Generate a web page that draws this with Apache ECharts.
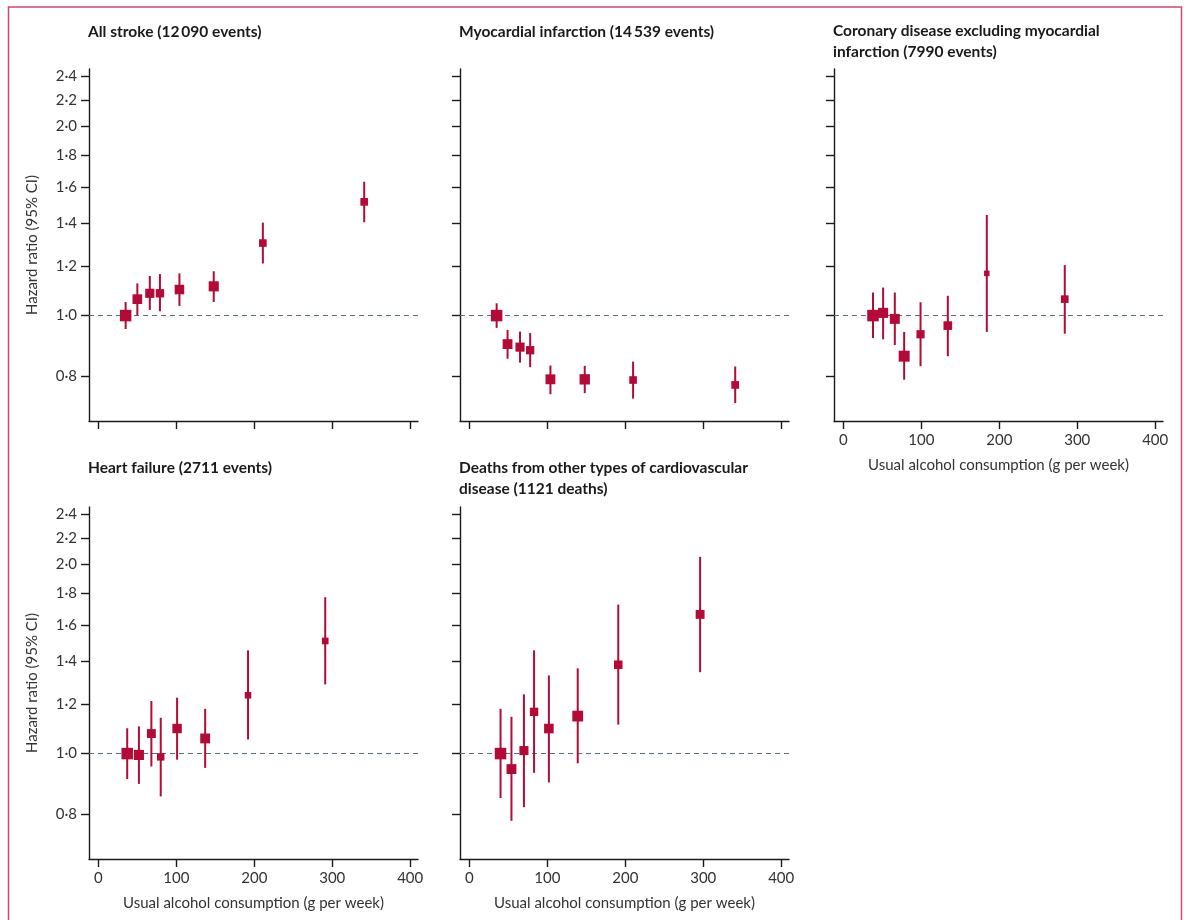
<!DOCTYPE html>
<html><head><meta charset="utf-8">
<script src="https://cdn.jsdelivr.net/npm/echarts@6/dist/echarts.min.js"></script>
<style>html,body{margin:0;padding:0;background:#fff}#c{width:1186px;height:920px}</style>
</head><body><div id="c"></div>
<script>
// ---- data ----
const yTicks = [0.8, 1.0, 1.2, 1.4, 1.6, 1.8, 2.0, 2.2, 2.4];
const xTicks = [0, 100, 200, 300, 400];
const xName = 'Usual alcohol consumption (g per week)';
const yName = 'Hazard ratio (95% CI)';

const strokeTitle = 'All stroke (12\u2009090 events)';
const strokeX  = [35, 50, 66, 79, 104, 148, 211, 341];
const strokeHR = [1.000, 1.062, 1.085, 1.085, 1.100, 1.113, 1.304, 1.516];
const strokeLo = [0.952, 1.000, 1.021, 1.016, 1.036, 1.051, 1.210, 1.407];
const strokeHi = [1.051, 1.125, 1.156, 1.164, 1.167, 1.176, 1.405, 1.632];

const miTitle = 'Myocardial infarction (14\u2009539 events)';
const miX  = [35, 49, 65, 78, 104, 148, 210, 341];
const miHR = [1.000, 0.901, 0.891, 0.881, 0.792, 0.792, 0.790, 0.776];
const miLo = [0.956, 0.854, 0.842, 0.828, 0.750, 0.753, 0.738, 0.726];
const miHi = [1.046, 0.949, 0.943, 0.938, 0.833, 0.832, 0.845, 0.830];

const corTitle = 'Coronary disease excluding myocardial\ninfarction (7990 events)';
const corX  = [38, 51, 66, 78, 99, 134, 184, 284];
const corHR = [1.000, 1.010, 0.988, 0.862, 0.934, 0.964, 1.167, 1.062];
const corLo = [0.921, 0.917, 0.898, 0.791, 0.831, 0.862, 0.942, 0.936];
const corHi = [1.088, 1.108, 1.088, 0.942, 1.050, 1.075, 1.445, 1.203];

const hfTitle = 'Heart failure (2711 events)';
const hfX  = [37, 52, 68, 80, 101, 137, 192, 291];
const hfHR = [1.000, 0.995, 1.076, 0.988, 1.096, 1.057, 1.238, 1.510];
const hfLo = [0.911, 0.895, 0.954, 0.855, 0.978, 0.949, 1.053, 1.288];
const hfHi = [1.097, 1.105, 1.212, 1.140, 1.227, 1.178, 1.459, 1.772];

const cvdTitle = 'Deaths from other types of cardiovascular\ndisease (1121 deaths)';
const cvdX  = [40, 54, 70, 83, 102, 139, 191, 296];
const cvdHR = [1.000, 0.945, 1.011, 1.165, 1.096, 1.147, 1.384, 1.664];
const cvdLo = [0.850, 0.782, 0.822, 0.932, 0.900, 0.965, 1.112, 1.347];
const cvdHi = [1.178, 1.144, 1.242, 1.459, 1.331, 1.366, 1.725, 2.054];

// ---- layout / style ----
const RED = '#b30b38';
const FONT = 'Lato, "Noto Sans", sans-serif';
const panels = [
  {title: strokeTitle, x: strokeX, hr: strokeHR, lo: strokeLo, hi: strokeHi, left: 89, top: 69, yLab: true, xLab: false},
  {title: miTitle, x: miX, hr: miHR, lo: miLo, hi: miHi, left: 460, top: 69, yLab: false, xLab: false},
  {title: corTitle, x: corX, hr: corHR, lo: corLo, hi: corHi, left: 834, top: 69, yLab: false, xLab: true},
  {title: hfTitle, x: hfX, hr: hfHR, lo: hfLo, hi: hfHi, left: 89, top: 507, yLab: true, xLab: true},
  {title: cvdTitle, x: cvdX, hr: cvdHR, lo: cvdLo, hi: cvdHi, left: 460, top: 507, yLab: false, xLab: true}
];
const titleTops = [21, 21, 20, 457, 457];

const LN = Math.log;
const grid = [], xAxis = [], yAxis = [], series = [], title = [];
panels.forEach((p, i) => {
  grid.push({left: p.left, top: p.top, width: 329, height: 352});
  title.push({text: p.title, left: p.left - 1, top: titleTops[i], padding: 0,
    textStyle: {fontFamily: FONT, fontWeight: 'bold', fontSize: 15.5, color: '#1a1a1a', lineHeight: 21}});
  xAxis.push({type: 'value', gridIndex: i, min: -12, max: 410,
    axisLine: {onZero: false, lineStyle: {color: '#1a1a1a', width: 1.4}},
    axisTick: {show: true, length: 8, customValues: xTicks, lineStyle: {color: '#1a1a1a', width: 1.4}},
    axisLabel: {show: p.xLab, customValues: xTicks, margin: 12, fontFamily: FONT, fontSize: 15, color: '#333'},
    splitLine: {show: false},
    name: p.xLab ? xName : '', nameLocation: 'middle', nameGap: 37,
    nameTextStyle: {fontFamily: FONT, fontSize: 15, color: '#333'}});
  const yv = yTicks.map(LN);
  yAxis.push({type: 'value', gridIndex: i, min: LN(0.68), max: LN(2.465),
    axisLine: {show: true, onZero: false, lineStyle: {color: '#1a1a1a', width: 1.4}},
    axisTick: {show: true, length: 8, customValues: yv, lineStyle: {color: '#1a1a1a', width: 1.4}},
    axisLabel: {show: p.yLab, customValues: yv, margin: 12, fontFamily: FONT, fontSize: 15, color: '#333',
      formatter: v => Math.exp(v).toFixed(1).replace('.', '\u00B7')},
    splitLine: {show: false},
    name: p.yLab ? yName : '', nameLocation: 'middle', nameGap: 49, nameRotate: 90,
    nameTextStyle: {fontFamily: FONT, fontSize: 15, color: '#333'}});
  const widths = p.lo.map((l, k) => LN(p.hi[k] / l));
  const minW = Math.min(...widths);
  const data = p.x.map((x, k) => [x, LN(p.hr[k]), LN(p.lo[k]), LN(p.hi[k]),
    Math.max(5.5, Math.min(12, 11.5 * minW / widths[k]))]);
  series.push({type: 'custom', xAxisIndex: i, yAxisIndex: i, z: 3, silent: true,
    renderItem: (params, api) => {
      const c = api.coord([api.value(0), api.value(1)]);
      const lo = api.coord([api.value(0), api.value(2)]);
      const hi = api.coord([api.value(0), api.value(3)]);
      const s = api.value(4);
      return {type: 'group', children: [
        {type: 'line', shape: {x1: lo[0], y1: lo[1], x2: hi[0], y2: hi[1]}, style: {stroke: RED, lineWidth: 2}},
        {type: 'rect', shape: {x: c[0] - s / 2, y: c[1] - s / 2, width: s, height: s}, style: {fill: RED}}
      ]};
    },
    data: data,
    markLine: {z: 1, silent: true, symbol: 'none', label: {show: false},
      lineStyle: {color: '#587080', type: [5, 4], width: 1.2}, data: [{yAxis: LN(1)}]}
  });
});

const chart = echarts.init(document.getElementById('c'), null, {renderer: 'canvas'});
chart.setOption({
  animation: false,
  backgroundColor: '#fff',
  title, grid, xAxis, yAxis, series,
  graphic: [{type: 'rect', silent: true, z: -1,
    shape: {x: 8.5, y: 7, width: 1173, height: 1000},
    style: {fill: 'none', stroke: '#cc4a6e', lineWidth: 1.5}}]
});
</script>
</body></html>
